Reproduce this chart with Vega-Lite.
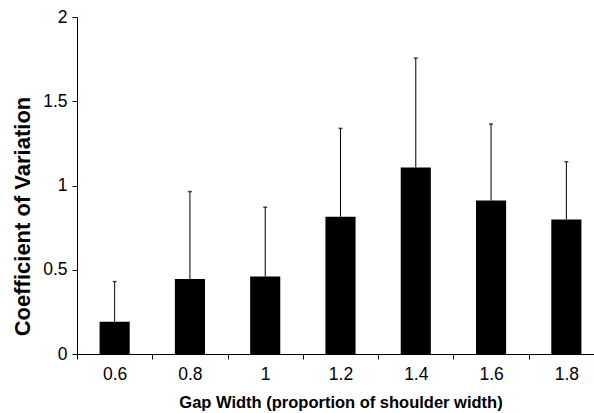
{
  "$schema": "https://vega.github.io/schema/vega-lite/v6.json",
  "width": 517,
  "height": 337,
  "autosize": "none",
  "padding": {"left": 77, "top": 17, "right": 0, "bottom": 59},
  "background": "white",
  "config": {
    "view": {"stroke": null},
    "font": "Liberation Sans",
    "axis": {
      "grid": false,
      "domainColor": "black",
      "tickColor": "black",
      "labelColor": "black",
      "titleColor": "black",
      "labelFont": "Liberation Sans",
      "titleFont": "Liberation Sans",
      "labelFontSize": 17.5,
      "titleFontSize": 16.5,
      "titleFontWeight": "bold"
    }
  },
  "data": {
    "values": [
      {"gap": "0.6", "cv": 0.192, "upper": 0.43},
      {"gap": "0.8", "cv": 0.445, "upper": 0.964},
      {"gap": "1", "cv": 0.46, "upper": 0.871},
      {"gap": "1.2", "cv": 0.815, "upper": 1.339},
      {"gap": "1.4", "cv": 1.107, "upper": 1.756},
      {"gap": "1.6", "cv": 0.911, "upper": 1.365},
      {"gap": "1.8", "cv": 0.798, "upper": 1.141}
    ]
  },
  "encoding": {
    "x": {
      "field": "gap",
      "type": "ordinal",
      "sort": null,
      "scale": {"range": [0, 527], "paddingInner": 0, "paddingOuter": 0},
      "axis": {
        "title": "Gap Width (proportion of shoulder width)",
        "labelAngle": 0,
        "bandPosition": 0,
        "tickBand": "extent",
        "tickSize": 5,
        "labelPadding": 6,
        "titlePadding": 12
      }
    }
  },
  "layer": [
    {
      "mark": {"type": "rule", "color": "black", "strokeWidth": 1},
      "encoding": {
        "y": {"field": "cv", "type": "quantitative"},
        "y2": {"field": "upper"}
      }
    },
    {
      "mark": {"type": "tick", "color": "black", "thickness": 1.5, "size": 4},
      "encoding": {
        "y": {"field": "upper", "type": "quantitative"}
      }
    },
    {
      "mark": {"type": "bar", "color": "black", "width": {"band": 0.4}},
      "encoding": {
        "y": {
          "field": "cv",
          "type": "quantitative",
          "scale": {"domain": [0, 2]},
          "axis": {
            "title": "Coefficient of Variation",
            "titleFontSize": 22,
            "titleX": -55,
            "titleY": 199,
            "titleAlign": "center",
            "titleBaseline": "middle",
            "titleAngle": -90,
            "values": [0, 0.5, 1, 1.5, 2],
            "format": "~g",
            "tickSize": 5,
            "labelPadding": 5
          }
        }
      }
    }
  ]
}
